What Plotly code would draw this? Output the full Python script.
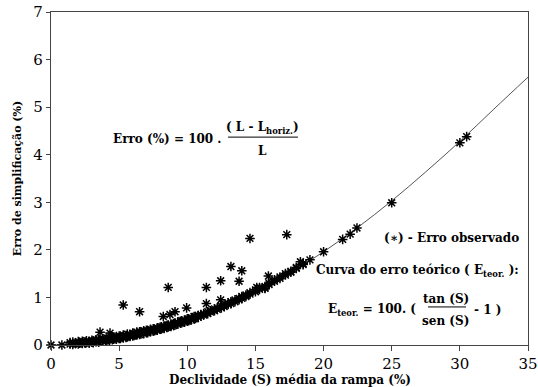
import plotly.graph_objects as go

# Theoretical curve
curve_x = [0, 2.5, 5, 7.5, 10, 12.5, 15, 17.5, 20, 22.5, 25, 27.5, 30, 32.5, 35]
curve_y = [0, 0.03, 0.12, 0.28, 0.50, 0.78, 1.11, 1.51, 1.96, 2.47, 3.03, 3.64, 4.28, 4.96, 5.63]

band_x = [1.4, 1.6, 1.8, 2.0, 2.1, 2.3, 2.5, 2.6, 2.8, 3.0, 3.1, 3.3, 3.5, 3.6, 3.8, 4.0, 4.1, 4.3,
          4.5, 4.6, 4.8, 5.0, 5.1, 5.3, 5.5, 5.6, 5.8, 6.0, 6.1, 6.3, 6.5, 6.6, 6.8, 7.0, 7.1, 7.3,
          7.5, 7.6, 7.8, 8.0, 8.1, 8.3, 8.5, 8.6, 8.8, 9.0, 9.1, 9.3, 9.5, 9.6, 9.8, 10.0, 10.1,
          10.3, 10.5, 10.6, 10.8, 11.0, 11.2, 11.5, 11.7, 12.0, 12.2, 12.5, 12.7, 13.0, 13.2, 13.5,
          13.8, 14.0, 14.3, 14.6, 15.0, 15.3, 15.7, 16.0, 16.4, 16.8, 17.2, 17.6, 18.0, 18.5]
band_low = [0.02, 0.01, 0.03, 0.02, 0.04, 0.03, 0.04, 0.05, 0.04, 0.06, 0.05, 0.07, 0.06, 0.08, 0.08,
            0.09, 0.10, 0.10, 0.11, 0.12, 0.12, 0.14, 0.14, 0.15, 0.16, 0.17, 0.18, 0.19, 0.20, 0.21,
            0.22, 0.23, 0.24, 0.26, 0.26, 0.28, 0.29, 0.30, 0.31, 0.33, 0.34, 0.35, 0.37, 0.38, 0.39,
            0.41, 0.42, 0.44, 0.46, 0.47, 0.48, 0.50, 0.51, 0.53, 0.55, 0.56, 0.58, 0.61, 0.63, 0.66,
            0.69, 0.72, 0.75, 0.78, 0.81, 0.85, 0.87, 0.91, 0.95, 0.98, 1.02, 1.07, 1.12, 1.17, 1.23,
            1.27, 1.34, 1.40, 1.47, 1.53, 1.61, 1.69]
band_high = [0.05, 0.06, 0.04, 0.07, 0.05, 0.08, 0.06, 0.09, 0.07, 0.10, 0.08, 0.11, 0.12, 0.10, 0.13,
             0.12, 0.15, 0.14, 0.17, 0.15, 0.18, 0.19, 0.17, 0.21, 0.20, 0.23, 0.22, 0.25, 0.24, 0.27,
             0.28, 0.27, 0.30, 0.31, 0.30, 0.33, 0.34, 0.33, 0.36, 0.37, 0.38, 0.40, 0.41, 0.42, 0.44,
             0.45, 0.46, 0.48, 0.50, 0.51, 0.52, 0.55, 0.55, 0.57, 0.60, 0.60, 0.62, 0.64, 0.66, 0.70,
             0.72, 0.76, 0.78, 0.82, 0.84, 0.88, 0.91, 0.95, 0.98, 1.02, 1.05, 1.10, 1.16, 1.21, 1.20,
             1.30, 1.37, 1.43, 1.50, 1.55, 1.63, 1.71]

obs_x = [0.0, 0.8, 3.6, 4.33, 5.3, 6.5, 8.24, 8.6, 8.73, 9.1, 9.95, 11.4, 11.4, 12.45, 12.45, 13.2,
         13.8, 14.0, 14.6, 15.1, 15.7, 15.95, 17.3, 18.3, 19.0, 20.0, 21.4, 21.95, 22.45, 25.0, 30.0, 30.5]
obs_y = [0.0, 0.0, 0.27, 0.25, 0.84, 0.70, 0.60, 1.21, 0.64, 0.70, 0.78, 1.21, 0.87, 1.35, 0.95, 1.65,
         1.34, 1.56, 2.24, 1.21, 1.19, 1.45, 2.32, 1.75, 1.79, 1.96, 2.22, 2.33, 2.46, 2.99, 4.25, 4.38]

FONT = "DejaVu Serif"

all_x = band_x + band_x + obs_x
all_y = band_low + band_high + obs_y

fig = go.Figure()
fig.add_trace(go.Scatter(x=curve_x, y=curve_y, mode="lines", line=dict(color="#555555", width=1, shape="spline"),
                         hoverinfo="skip", showlegend=False))
fig.add_trace(go.Scatter(x=all_x, y=all_y, mode="markers", cliponaxis=False, showlegend=False,
                         marker=dict(symbol="asterisk-open", size=8, color="black",
                                     line=dict(color="black", width=1.5))))

bold = dict(family=FONT, size=12, color="black", weight="bold")
ann = []
def A(x, y, t, xa="left"):
    ann.append(dict(x=x, y=y, xref="x", yref="y", text=t, showarrow=False, xanchor=xa, yanchor="middle",
                    yshift=-3, font=bold))

A(12.69, 4.39, "Erro (%) = 100 .", "right")
A(15.55, 4.62, "( L - L<sub>horiz.</sub>)", "center")
A(15.55, 4.14, "L", "center")
A(34.48, 2.31, "(∗) - Erro observado", "right")
A(34.48, 1.62, "Curva do erro teórico ( E<sub>teor.</sub> ):", "right")
A(26.93, 0.80, "E<sub>teor.</sub> = 100. (", "right")
A(28.98, 1.03, "tan (S)", "center")
A(28.98, 0.57, "sen (S)", "center")
A(30.89, 0.80, "- 1 )")

# x-axis title placed as paper annotation
ann.append(dict(x=0.5, y=-0.105, xref="paper", yref="paper", showarrow=False, xanchor="center", yanchor="middle",
                text="Declividade (S) média da rampa (%)", font=dict(family=FONT, size=12, color="black", weight="bold")))

shapes = [
    dict(type="line", xref="x", yref="y", x0=12.99, x1=18.12, y0=4.37, y1=4.37, line=dict(color="black", width=1)),
    dict(type="line", xref="x", yref="y", x0=27.66, x1=30.45, y0=0.80, y1=0.80, line=dict(color="black", width=1)),
]

fig.update_layout(
    width=538, height=387, margin=dict(l=51, r=10, t=12, b=42),
    plot_bgcolor="white", paper_bgcolor="white",
    annotations=ann, shapes=shapes,
    font=dict(family=FONT, color="black"),
    xaxis=dict(range=[0, 35], dtick=5, showgrid=False, zeroline=False, showline=True, mirror=True,
               automargin=False,
               linecolor="#444444", linewidth=1.3, ticks="outside", ticklen=5, tickcolor="#444444",
               tickfont=dict(family=FONT, size=15, color="black")),
    yaxis=dict(range=[0, 7], dtick=1, showgrid=False, zeroline=False, showline=True, mirror=True,
               automargin=False,
               linecolor="#444444", linewidth=1.3, ticks="outside", ticklen=4, tickcolor="#444444",
               tickfont=dict(family=FONT, size=15, color="black"),
               title=dict(text="Erro de simplificação (%)", font=dict(family=FONT, size=11, color="black", weight="bold"), standoff=9)),
)

fig.write_html("out.html")
